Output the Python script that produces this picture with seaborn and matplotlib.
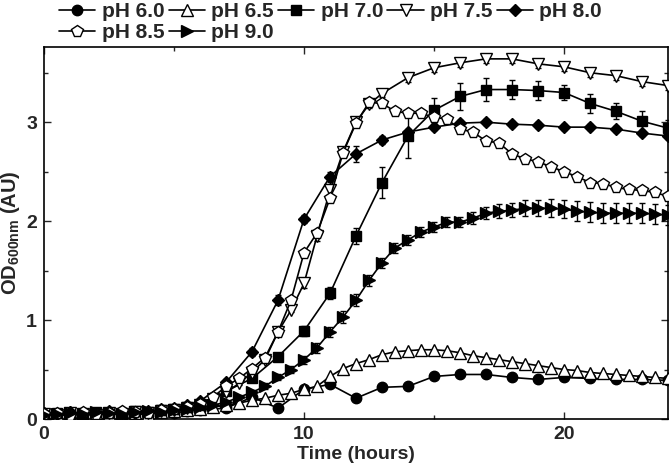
import numpy as np
import pandas as pd
import matplotlib
matplotlib.use("Agg")
import matplotlib.pyplot as plt
from matplotlib.lines import Line2D
from matplotlib.ticker import MultipleLocator
import seaborn as sns

# ---------------- data ----------------
labels = ["pH 6.0", "pH 6.5", "pH 7.0", "pH 7.5", "pH 8.0", "pH 8.5", "pH 9.0"]

# time grids (hours)
t_a = list(np.arange(0, 6.01, 0.5)) + list(range(7, 25))          # pH 6.0, 7.0, 8.0
t_b = list(np.arange(0, 13.01, 0.5)) + list(range(14, 25))        # pH 7.5
t_c = list(np.arange(0, 24.01, 0.5))                              # pH 6.5, 8.5, 9.0

ph60 = [0.04, 0.05, 0.03, 0.06, 0.04, 0.05, 0.05, 0.06, 0.04, 0.07, 0.06, 0.08, 0.09,
        0.11, 0.22, 0.11, 0.30, 0.35, 0.21, 0.32, 0.33, 0.43, 0.45, 0.45, 0.42, 0.40,
        0.42, 0.41, 0.40, 0.40, 0.39]
ph70 = [0.05, 0.06, 0.04, 0.05, 0.07, 0.06, 0.05, 0.08, 0.07, 0.09, 0.10, 0.12, 0.14,
        0.28, 0.41, 0.63, 0.89, 1.27, 1.85, 2.39, 2.86, 3.12, 3.26, 3.33, 3.33, 3.32,
        3.30, 3.19, 3.11, 3.01, 2.94]
ph70_err = [0.02, 0.02, 0.02, 0.02, 0.02, 0.02, 0.02, 0.02, 0.02, 0.02, 0.02, 0.03, 0.03,
            0.03, 0.04, 0.04, 0.05, 0.06, 0.08, 0.16, 0.22, 0.12, 0.14, 0.12, 0.10, 0.10,
            0.08, 0.10, 0.08, 0.10, 0.08]
ph80 = [0.06, 0.05, 0.07, 0.05, 0.06, 0.08, 0.07, 0.06, 0.08, 0.10, 0.11, 0.14, 0.18,
        0.37, 0.68, 1.20, 2.02, 2.45, 2.68, 2.82, 2.90, 2.95, 2.99, 3.00, 2.98, 2.97,
        2.95, 2.95, 2.93, 2.89, 2.86]
ph80_err = [0.02, 0.02, 0.02, 0.02, 0.02, 0.02, 0.02, 0.02, 0.02, 0.02, 0.02, 0.02, 0.03,
            0.03, 0.04, 0.05, 0.04, 0.05, 0.08, 0.04, 0.03, 0.03, 0.03, 0.03, 0.03, 0.03,
            0.03, 0.03, 0.03, 0.03, 0.03]
ph75 = [0.05, 0.04, 0.06, 0.05, 0.04, 0.06, 0.05, 0.07, 0.06, 0.08, 0.09, 0.11, 0.14,
        0.20, 0.27, 0.36, 0.47, 0.60, 0.88, 1.10, 1.37, 1.85, 2.31, 2.70, 3.00, 3.18,
        3.29, 3.45, 3.55, 3.60, 3.64, 3.64, 3.59, 3.56, 3.50, 3.47, 3.41, 3.37]
ph75_err = [0.02] * 20 + [0.05, 0.05, 0.05, 0.05, 0.04, 0.04, 0.04, 0.04, 0.04, 0.04,
                          0.04, 0.04, 0.04, 0.04, 0.04, 0.04, 0.04, 0.04]
ph65 = [0.06, 0.05, 0.07, 0.04, 0.06, 0.05, 0.07, 0.06, 0.05, 0.07, 0.08, 0.09, 0.10,
        0.12, 0.14, 0.16, 0.19, 0.21, 0.24, 0.26, 0.30, 0.33, 0.43, 0.51, 0.56, 0.60,
        0.65, 0.68, 0.69, 0.70, 0.70, 0.69, 0.67, 0.64, 0.62, 0.60, 0.58, 0.56, 0.54,
        0.52, 0.50, 0.49, 0.47, 0.46, 0.45, 0.44, 0.43, 0.42, 0.41]
ph85 = [0.05, 0.06, 0.04, 0.07, 0.05, 0.06, 0.08, 0.07, 0.06, 0.09, 0.10, 0.12, 0.15,
        0.22, 0.33, 0.41, 0.51, 0.62, 0.88, 1.20, 1.68, 1.88, 2.23, 2.69, 2.99, 3.20,
        3.19, 3.11, 3.09, 3.09, 3.05, 3.03, 2.93, 2.90, 2.81, 2.79, 2.68, 2.63, 2.60,
        2.55, 2.50, 2.45, 2.39, 2.38, 2.34, 2.32, 2.31, 2.29, 2.25]
ph90 = [0.04, 0.05, 0.06, 0.05, 0.07, 0.06, 0.05, 0.07, 0.08, 0.07, 0.09, 0.10, 0.12,
        0.14, 0.17, 0.22, 0.27, 0.33, 0.42, 0.50, 0.60, 0.72, 0.88, 1.03, 1.20, 1.40,
        1.58, 1.73, 1.81, 1.89, 1.94, 1.99, 1.99, 2.03, 2.08, 2.10, 2.11, 2.13, 2.13,
        2.13, 2.12, 2.10, 2.09, 2.08, 2.08, 2.08, 2.08, 2.07, 2.06]
ph90_err = [0.02] * 17 + [0.03, 0.03, 0.04, 0.04, 0.05, 0.05, 0.06, 0.06, 0.06, 0.05,
                          0.05, 0.05, 0.05, 0.05, 0.05, 0.05, 0.06, 0.06, 0.07, 0.07,
                          0.08, 0.08, 0.09, 0.09, 0.10, 0.10, 0.10, 0.10, 0.10, 0.10,
                          0.10, 0.10]

series = {
    "pH 6.0": (t_a, ph60, None),
    "pH 6.5": (t_c, ph65, None),
    "pH 7.0": (t_a, ph70, ph70_err),
    "pH 7.5": (t_b, ph75, ph75_err),
    "pH 8.0": (t_a, ph80, ph80_err),
    "pH 8.5": (t_c, ph85, None),
    "pH 9.0": (t_c, ph90, ph90_err),
}

styles = {
    "pH 6.0": dict(marker="o", mfc="black", ms=7.5),
    "pH 6.5": dict(marker="^", mfc="white", ms=8),
    "pH 7.0": dict(marker="s", mfc="black", ms=7),
    "pH 7.5": dict(marker="v", mfc="white", ms=8),
    "pH 8.0": dict(marker="D", mfc="black", ms=6.5),
    "pH 8.5": dict(marker="p", mfc="white", ms=8.5),
    "pH 9.0": dict(marker=">", mfc="black", ms=8),
}

# ---------------- figure ----------------
sns.set_style("ticks")
plt.rcParams["font.family"] = ["Liberation Sans", "DejaVu Sans"]
plt.rcParams["font.weight"] = "bold"
plt.rcParams["mathtext.fontset"] = "custom"
plt.rcParams["mathtext.rm"] = "Liberation Sans:bold"
plt.rcParams["mathtext.it"] = "Liberation Sans:bold"
plt.rcParams["mathtext.bf"] = "Liberation Sans:bold"
plt.rcParams["mathtext.default"] = "rm"

fig = plt.figure(figsize=(6.7, 4.67), dpi=100)
ax = fig.add_axes([44 / 670, 48 / 467, 624 / 670, 372 / 467])

for name in labels:
    t, v, e = series[name]
    st = styles[name]
    df = pd.DataFrame({"t": t, "v": v})
    if e is not None:
        ax.errorbar(t, v, yerr=e, fmt="none", ecolor="black", elinewidth=1.0,
                    capsize=2, capthick=1.0, zorder=2)
    sns.lineplot(data=df, x="t", y="v", ax=ax, estimator=None, sort=True,
                 color="black", linewidth=1.2, marker=st["marker"],
                 markersize=st["ms"], markerfacecolor=st["mfc"],
                 markeredgecolor="black", markeredgewidth=1.0, zorder=3,
                 legend=False)

ax.set_xlim(0, 24)
ax.set_ylim(0, 3.76)
ax.xaxis.set_major_locator(MultipleLocator(10))
ax.xaxis.set_minor_locator(MultipleLocator(5))
ax.yaxis.set_major_locator(MultipleLocator(1))
ax.yaxis.set_minor_locator(MultipleLocator(0.5))
ax.tick_params(which="both", direction="in", top=True, right=True, width=1.0)
ax.tick_params(which="major", length=5, labelsize=14, pad=5)
ax.tick_params(which="minor", length=3)
for lab in ax.get_xticklabels() + ax.get_yticklabels():
    lab.set_fontweight("bold")
for s in ax.spines.values():
    s.set_linewidth(1.2)
    s.set_color("black")

ax.set_xlabel("Time (hours)", fontsize=14, fontweight="bold", labelpad=2)
ax.set_ylabel("OD$_{600nm}$ (AU)", fontsize=14.5, fontweight="bold", labelpad=3)

# legend: two rows (6.0..8.0 on top, 8.5, 9.0 below)
handles = {}
for name in labels:
    st = styles[name]
    handles[name] = Line2D([], [], color="black", linewidth=1.2, marker=st["marker"],
                           markersize=st["ms"], markerfacecolor=st["mfc"],
                           markeredgecolor="black")
order = ["pH 6.0", "pH 8.5", "pH 6.5", "pH 9.0", "pH 7.0", "pH 7.5", "pH 8.0"]
fig.legend([handles[n] for n in order], order, ncol=5, loc="upper left",
           bbox_to_anchor=(59 / 670, 1 - 2 / 467), frameon=False,
           prop={"weight": "bold", "size": 15}, handlelength=1.75,
           handletextpad=0.3, columnspacing=0.2, labelspacing=0.12,
           borderpad=0, borderaxespad=0)

fig.savefig("out.png", dpi=100)
